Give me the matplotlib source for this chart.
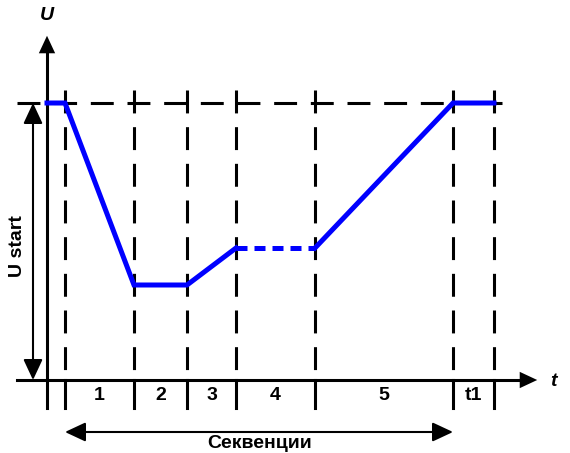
import numpy as np
import matplotlib.pyplot as plt

# time marks (segment boundaries) and voltage levels, in drawing units
t_marks = [18, 87, 140, 189, 268, 406, 447]
u_start = 277
u_low = 95
u_mid = 132

seg_labels = ['1', '2', '3', '4', '5', 't1']

# voltage profile
prof_t = [0, t_marks[0], t_marks[1], t_marks[2], t_marks[3]]
prof_u = [u_start, u_start, u_low, u_low, u_mid]
prof2_t = [t_marks[4], t_marks[5], t_marks[6]]
prof2_u = [u_mid, u_start, u_start]

plt.rcParams['font.family'] = ['Liberation Sans', 'DejaVu Sans']

fig = plt.figure(figsize=(5.7, 4.53), dpi=100)
ax = fig.add_axes([0, 0, 1, 1])
ax.set_xlim(-47, 523)
ax.set_ylim(-73, 380)
ax.axis('off')

dash = (0, (7.5, 4.5))
head = '-|>,head_length=0.9,head_width=0.42'
head2 = '<|-|>,head_length=0.9,head_width=0.42'

# dashed guides
ax.plot([-30, 455], [u_start, u_start], color='black', lw=2.2, linestyle=dash)
for t in t_marks:
    ax.plot([t, t], [290, 0], color='black', lw=2.2, linestyle=dash)
    ax.plot([t, t], [0, -28], color='black', lw=2.2)

# axes with arrows
ax.plot([0, 0], [-28, 335], color='black', lw=2.2)
ax.annotate('', xy=(0, 347), xytext=(0, 320),
            arrowprops=dict(arrowstyle=head, color='black', lw=0, mutation_scale=14))
ax.plot([-30, 480], [0, 0], color='black', lw=2.2)
ax.annotate('', xy=(493, 0), xytext=(470, 0),
            arrowprops=dict(arrowstyle=head, color='black', lw=0, mutation_scale=14))
ax.text(0, 364, 'U', fontsize=14, fontweight='bold', fontstyle='italic', ha='center', va='center')
ax.text(506, -2, 't', fontsize=14, fontweight='bold', fontstyle='italic', ha='center', va='center')

# U start arrow
ax.annotate('', xy=(-14, 0), xytext=(-14, u_start),
            arrowprops=dict(arrowstyle=head2, color='black', lw=1.5,
                            mutation_scale=14, shrinkA=0, shrinkB=0))
ax.text(-30, 134, 'U start', fontsize=14, fontweight='bold', rotation=90, ha='center', va='center')

# blue profile
ax.plot(prof_t, prof_u, color='#0000ff', lw=3.6, solid_joinstyle='miter')
ax.plot([t_marks[3], t_marks[4]], [u_mid, u_mid], color='#0000ff', lw=3.6, linestyle=(0, (2.2, 1.4)))
ax.plot(prof2_t, prof2_u, color='#0000ff', lw=3.6, solid_joinstyle='miter')

# segment labels
for i, lab in enumerate(seg_labels):
    xc = (t_marks[i] + t_marks[i + 1]) / 2
    ax.text(xc, -16, lab, fontsize=14, fontweight='bold', ha='center', va='center')

# sequences arrow
ax.annotate('', xy=(t_marks[0], -52), xytext=(t_marks[5], -52),
            arrowprops=dict(arrowstyle=head2, color='black', lw=1.5,
                            mutation_scale=14, shrinkA=0, shrinkB=0))
ax.text(213, -64, 'Секвенции', fontsize=14, fontweight='bold', ha='center', va='center')

fig.savefig('out.png', dpi=100)
